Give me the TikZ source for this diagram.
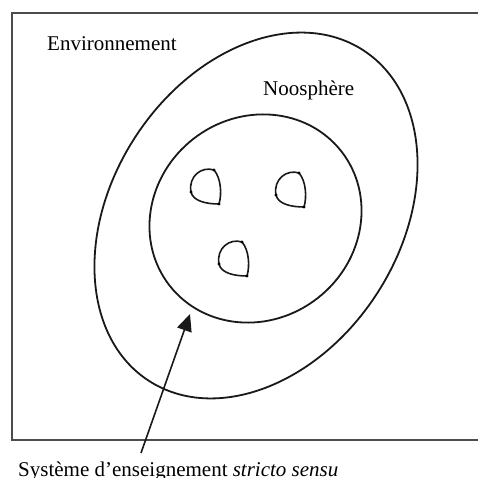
\documentclass[tikz,border=0pt]{standalone}
\usepackage{fontspec}
\setmainfont{Liberation Serif}
\usetikzlibrary{arrows.meta}
\begin{document}
\begin{tikzpicture}[x=1pt,y=-1pt,
  curve/.style={line width=1.8pt, black!90},
  frame/.style={line width=1.6pt, black!70},
  lbl/.style={inner sep=0pt, font=\fontsize{21}{25}\selectfont},
  loopshape/.pic={
    \draw[line width=1.6pt, black!90] (0,0) .. controls (-12,-4) and (-26,6) .. (-23,22)
      .. controls (-21,31) and (-8,34) .. (5,34) .. controls (8,24) and (7,8) .. cycle;
    \fill (0,0) circle (1.6pt) (-23,22) circle (1.6pt) (5,34) circle (1.6pt);
  }
]
\useasboundingbox (0,0) rectangle (478,478);
\fill[white] (0,0) rectangle (478,478);
% frame
\draw[frame] (480,13) -- (12,13) -- (12,440) -- (480,440);
% outer oval
\draw[curve, rotate around={57:(256,215.5)}] (256,215.5) ellipse [x radius=197, y radius=144];
% inner oval
\draw[curve, rotate around={38:(255.5,218.5)}] (255.5,218.5) ellipse [x radius=109, y radius=101];
% small loops
\pic at (214,170) {loopshape};
\pic at (299,173) {loopshape};
\pic at (242,242) {loopshape};
% labels
\node[lbl, anchor=base west] (env) at (47,51) {Environnement};
\node[lbl, anchor=base west] (noo) at (263,96) {Noosphère};
\node[lbl, anchor=base west] (sys) at (18,476) {Système d’enseignement \textit{stricto sensu}};
% arrow
\coordinate (tail) at (141,453);
\coordinate (tip) at (190,314);
\draw[line width=1.6pt, black!90, -{Triangle[length=17pt,width=15pt]}] (tail) -- (tip);
\end{tikzpicture}
\end{document}
